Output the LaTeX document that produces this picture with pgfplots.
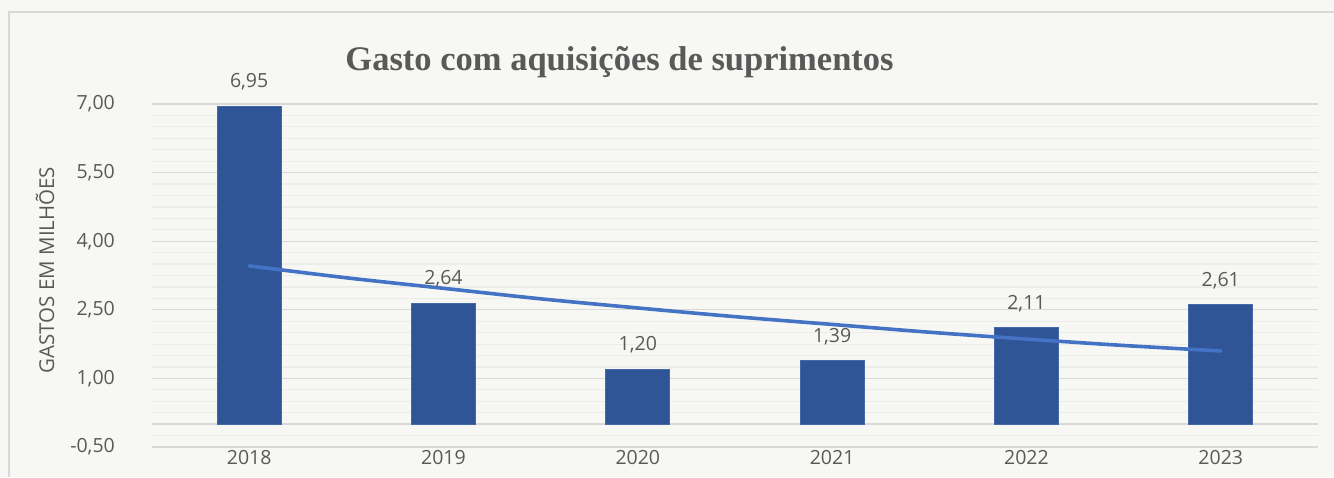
\documentclass[border=0pt]{standalone}
\usepackage{fontspec}
\setmainfont{Open Sans}
\newfontfamily\titlefont{Liberation Serif}
\usepackage{pgfplots}
\pgfplotsset{compat=1.18}

\definecolor{bg}{HTML}{F7F8F4}
\definecolor{frame}{HTML}{D9D9D9}
\definecolor{majgrid}{HTML}{D9D9D9}
\definecolor{mingrid}{HTML}{ECEDEA}
\definecolor{barblue}{HTML}{2F5597}
\definecolor{baredge}{HTML}{4468A8}
\definecolor{trend}{HTML}{4472C4}
\definecolor{txt}{HTML}{595959}

\begin{document}
\begin{tikzpicture}
  \path[use as bounding box, fill=bg] (0,0) rectangle (1334pt,477pt);
  \draw[frame, line width=1.5pt] (9pt,0) -- (9pt,465pt) -- (1340pt,465pt);

  \begin{axis}[
      at={(152pt,30pt)}, anchor=south west,
      scale only axis,
      width=1166pt, height=343pt,
      xmin=-0.5, xmax=5.5,
      ymin=-0.5, ymax=7,
      xtick=data,
      xticklabels={2018,2019,2020,2021,2022,2023},
      ytick={-0.5,1,2.5,4,5.5,7},
      minor y tick num=5,
      ymajorgrids, yminorgrids,
      major grid style={majgrid, line width=1.2pt},
      minor grid style={mingrid, line width=1.2pt},
      extra y ticks={0},
      extra y tick labels={},
      extra y tick style={grid=major, major grid style={majgrid, line width=1.4pt}},
      axis line style={draw=none},
      tick style={draw=none},
      major tick length=0pt, minor tick length=0pt,
      /pgf/number format/assume math mode=true,
      yticklabel style={anchor=east, inner sep=0pt, xshift=-37pt,
        font=\fontsize{19.5}{23}\selectfont, text=txt,
        /pgf/number format/.cd, fixed, fixed zerofill, precision=2, use comma, 1000 sep={}},
      xticklabel style={anchor=north, inner sep=0pt, yshift=-3pt,
        font=\fontsize{19.5}{23}\selectfont, text=txt},
      ylabel={GASTOS EM MILHÕES},
      ylabel style={at={(axis description cs:-0.0918,0.516)}, anchor=center,
        font=\fontsize{20.5}{24}\selectfont, text=txt},
      title={Gasto com aquisições de suprimentos},
      title style={at={(axis description cs:0.401,1.104)}, anchor=center,
        font=\titlefont\bfseries\fontsize{34.5}{40}\selectfont, text=txt},
      clip=false,
    ]
    \addplot[ybar, bar width=64pt, fill=barblue, draw=baredge, line width=0.8pt,
      nodes near coords={\pgfmathprintnumber[fixed, fixed zerofill, precision=2, use comma, assume math mode=true]{\pgfplotspointmeta}},
      every node near coord/.append style={anchor=base, inner sep=0pt, yshift=18.5pt,
        font=\fontsize{19.5}{23}\selectfont, text=txt}]
      coordinates {(0,6.95) (1,2.64) (2,1.20) (3,1.39) (4,2.11) (5,2.61)};
    % exponential trend line as drawn
    \addplot[trend, line width=3.6pt, line cap=round, smooth, mark=none]
      coordinates {(0,3.46) (0.5,3.20) (1,2.97) (1.5,2.74) (2,2.54) (2.5,2.35)
                   (3,2.18) (3.5,2.01) (4,1.86) (4.5,1.72) (5,1.60)};
  \end{axis}
\end{tikzpicture}
\end{document}
